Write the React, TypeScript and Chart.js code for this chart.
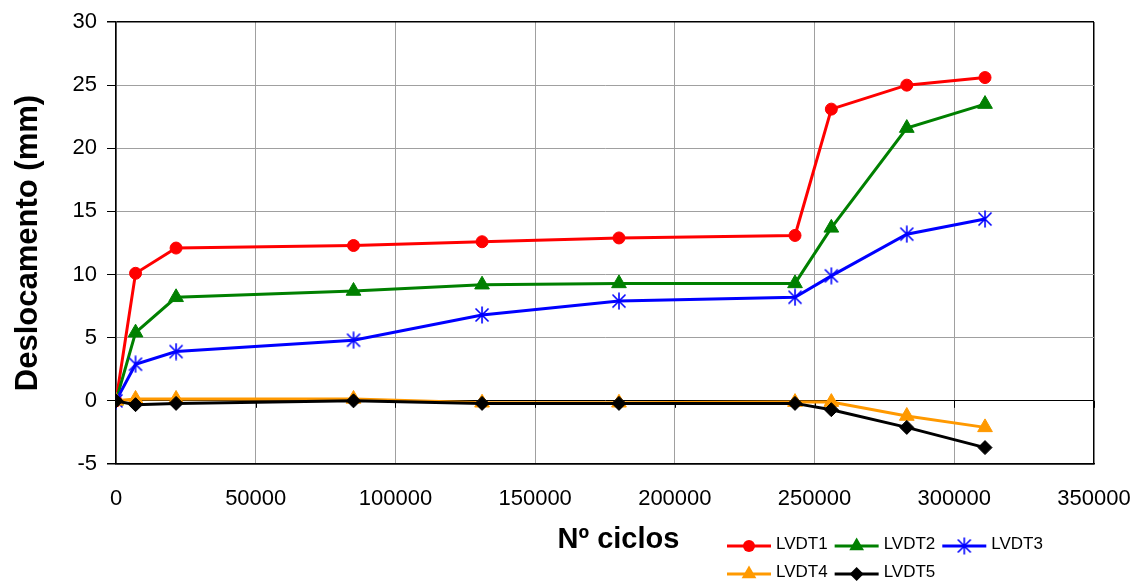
import { useEffect, useRef } from "react";
import { Chart, registerables } from "chart.js";

Chart.register(...registerables);

// ---- data ----
const cycles = [0, 7000, 21500, 85000, 131000, 180000, 243000, 256000, 283000, 311000];
const lvdt1 = [0, 10.1, 12.1, 12.3, 12.6, 12.9, 13.1, 23.1, 25.0, 25.6];
const lvdt2 = [0, 5.4, 8.2, 8.7, 9.2, 9.3, 9.3, 13.7, 21.6, 23.5];
const lvdt3 = [0, 2.9, 3.9, 4.8, 6.8, 7.9, 8.2, 9.9, 13.2, 14.4];
const lvdt4 = [0, 0.15, 0.15, 0.15, -0.15, -0.15, -0.1, -0.1, -1.2, -2.1];
const lvdt5 = [0, -0.3, -0.2, 0.0, -0.2, -0.2, -0.2, -0.7, -2.1, -3.7];

const seriesNames = ["LVDT1", "LVDT2", "LVDT3", "LVDT4", "LVDT5"];
const seriesValues = [lvdt1, lvdt2, lvdt3, lvdt4, lvdt5];
const seriesColors = ["#FF0000", "#008000", "#0000FF", "#FF9900", "#000000"];
const seriesMarkers = ["circle", "triangle", "star", "triangle", "rectRot"];

const xTitle = "Nº ciclos";
const yTitle = "Deslocamento (mm)";
const xMin = 0;
const xMax = 350000;
const xStep = 50000;
const yMin = -5;
const yMax = 30;
const yStep = 5;

const FONT = "'Liberation Sans', Arial, Helvetica, sans-serif";

function makeStar(color: string): HTMLCanvasElement {
  const c = document.createElement("canvas");
  c.width = 18;
  c.height = 18;
  const g = c.getContext("2d")!;
  g.strokeStyle = color;
  g.lineWidth = 1.6;
  g.beginPath();
  g.moveTo(9, 0.5);
  g.lineTo(9, 17.5);
  g.moveTo(2.5, 2.5);
  g.lineTo(15.5, 15.5);
  g.moveTo(15.5, 2.5);
  g.lineTo(2.5, 15.5);
  g.stroke();
  return c;
}

function markerRadius(style: string): number {
  if (style === "circle") return 6;
  if (style === "triangle") return 8.5;
  if (style === "rectRot") return 7;
  return 9;
}

function drawMarker(ctx: CanvasRenderingContext2D, style: any, r: number, x: number, y: number, color: string) {
  ctx.save();
  ctx.fillStyle = color;
  ctx.strokeStyle = color;
  ctx.lineWidth = 1;
  if (typeof style !== "string") {
    ctx.drawImage(style, x - style.width / 2, y - style.height / 2);
  } else if (style === "circle") {
    ctx.beginPath();
    ctx.arc(x, y, r, 0, Math.PI * 2);
    ctx.fill();
  } else if (style === "triangle") {
    ctx.beginPath();
    let rad = 0;
    ctx.moveTo(x + Math.sin(rad) * r, y - Math.cos(rad) * r);
    rad += (2 * Math.PI) / 3;
    ctx.lineTo(x + Math.sin(rad) * r, y - Math.cos(rad) * r);
    rad += (2 * Math.PI) / 3;
    ctx.lineTo(x + Math.sin(rad) * r, y - Math.cos(rad) * r);
    ctx.closePath();
    ctx.fill();
  } else if (style === "rectRot") {
    ctx.beginPath();
    ctx.moveTo(x, y - r);
    ctx.lineTo(x + r, y);
    ctx.lineTo(x, y + r);
    ctx.lineTo(x - r, y);
    ctx.closePath();
    ctx.fill();
  }
  ctx.restore();
}

const legendPlugin = {
  id: "customLegend",
  afterDraw(chart: any) {
    const ctx: CanvasRenderingContext2D = chart.ctx;
    const rows = [
      [0, 1, 2],
      [3, 4],
    ];
    const rowY = [546, 574];
    ctx.save();
    ctx.font = `17px ${FONT}`;
    ctx.textBaseline = "middle";
    ctx.textAlign = "left";
    rows.forEach((row, r) => {
      let x = 727;
      const y = rowY[r];
      row.forEach((i) => {
        const ds = chart.data.datasets[i];
        ctx.strokeStyle = ds.borderColor;
        ctx.lineWidth = 3;
        ctx.beginPath();
        ctx.moveTo(x, y);
        ctx.lineTo(x + 44, y);
        ctx.stroke();
        drawMarker(ctx, ds.pointStyle, ds.pointRadius, x + 22, y, ds.borderColor);
        ctx.fillStyle = "#000";
        ctx.fillText(ds.label, x + 49, y - 1.5);
        x += 49 + ctx.measureText(ds.label).width + 7;
      });
    });
    // x axis title
    ctx.font = `bold 29px ${FONT}`;
    ctx.textAlign = "center";
    ctx.textBaseline = "alphabetic";
    ctx.fillStyle = "#000";
    ctx.fillText(xTitle, 618.5, 548);
    ctx.restore();
  },
};

const zeroTicksPlugin = {
  id: "zeroTicks",
  beforeDatasetsDraw(chart: any) {
    const ctx: CanvasRenderingContext2D = chart.ctx;
    const xs = chart.scales.x;
    const ys = chart.scales.y;
    const y0 = ys.getPixelForValue(0);
    ctx.save();
    ctx.strokeStyle = "#000";
    ctx.lineWidth = 1;
    xs.ticks.forEach((t: any) => {
      const px = Math.round(xs.getPixelForValue(t.value)) + 0.5;
      ctx.beginPath();
      ctx.moveTo(px, y0);
      ctx.lineTo(px, y0 + 7);
      ctx.stroke();
    });
    ctx.restore();
  },
};

export default function App() {
  const ref = useRef<HTMLCanvasElement>(null);

  useEffect(() => {
    if (!ref.current) return;
    Chart.defaults.font.family = FONT;
    Chart.defaults.color = "#000";

    const datasets = seriesNames.map((name, i) => {
      const m = seriesMarkers[i];
      const style: any = m === "star" ? makeStar(seriesColors[i]) : m;
      return {
        label: name,
        data: cycles.map((c, k) => ({ x: c, y: seriesValues[i][k] })),
        borderColor: seriesColors[i],
        backgroundColor: seriesColors[i],
        borderWidth: 3,
        pointStyle: style,
        pointRadius: markerRadius(m),
        pointHoverRadius: markerRadius(m),
        pointBorderWidth: 1,
        pointBackgroundColor: seriesColors[i],
        pointBorderColor: seriesColors[i],
        tension: 0,
        fill: false,
        order: seriesNames.length - i,
      };
    });

    const chart = new Chart(ref.current, {
      type: "line",
      data: { datasets },
      plugins: [zeroTicksPlugin, legendPlugin],
      options: {
        responsive: false,
        animation: false,
        layout: { padding: { top: 22, right: 41, bottom: 0, left: 0 } },
        plugins: {
          legend: { display: false },
          tooltip: { enabled: false },
        },
        scales: {
          x: {
            type: "linear",
            min: xMin,
            max: xMax,
            afterFit: (s: any) => {
              s.height = 117;
              s.paddingLeft = 0;
              s.paddingRight = 0;
            },
            ticks: {
              stepSize: xStep,
              font: { size: 22, family: FONT },
              color: "#000",
              padding: 22,
              maxRotation: 0,
              callback: (v: any) => String(v),
            },
            grid: {
              color: (c: any) => (c.tick && c.tick.value === xMax ? "#000" : "#a0a0a0"),
              lineWidth: (c: any) => (c.tick && c.tick.value === xMax ? 1.5 : 1),
              drawTicks: false,
            },
            border: { color: "#000", width: 1.5 },
          },
          y: {
            type: "linear",
            min: yMin,
            max: yMax,
            afterFit: (s: any) => {
              s.width = 116;
              s.paddingTop = 0;
              s.paddingBottom = 0;
            },
            ticks: {
              stepSize: yStep,
              font: { size: 22, family: FONT },
              color: "#000",
              padding: 10,
            },
            grid: {
              color: (c: any) =>
                c.tick && (c.tick.value === 0 || c.tick.value === yMax || c.tick.value === yMin) ? "#000" : "#a0a0a0",
              lineWidth: (c: any) => (c.tick && (c.tick.value === yMax || c.tick.value === yMin) ? 1.5 : 1),
              tickColor: "#000",
              tickLength: 9,
            },
            border: { color: "#000", width: 1.5 },
            title: {
              display: true,
              text: yTitle,
              font: { size: 31, weight: "bold", family: FONT },
              color: "#000",
              padding: { top: 10, bottom: 0 },
            },
          },
        },
      } as any,
    });

    return () => chart.destroy();
  }, []);

  return (
    <div style={{ position: "absolute", left: 0, top: 0, width: 1135, height: 581, background: "#fff" }}>
      <canvas ref={ref} width={1135} height={581} style={{ display: "block" }} />
    </div>
  );
}
